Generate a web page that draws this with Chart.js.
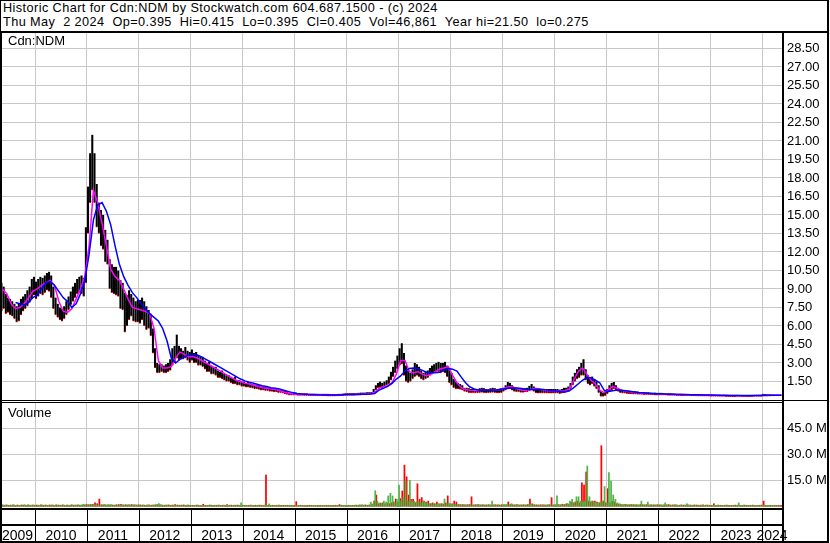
<!DOCTYPE html>
<html>
<head>
<title>Historic Chart for Cdn:NDM</title>
<script src="https://cdn.jsdelivr.net/npm/chart.js"></script>
<style>
  body { margin: 0; background: #fff; font-family: "Liberation Sans", Arial, sans-serif; color: #000; }
  #page { position: relative; width: 830px; height: 543px; overflow: hidden; }
  canvas { position: absolute; left: 0; }
  .line { position: absolute; background: #000; z-index: 5; }
  #head { position: absolute; left: 3px; top: 1px; font-size: 12.7px; letter-spacing: 0.42px; line-height: 14px; white-space: pre; }
  .tag { position: absolute; left: 8px; font-size: 13px; z-index: 4; }
</style>
</head>
<body>
<div id="page">
  <div id="head">Historic Chart for Cdn:NDM by Stockwatch.com 604.687.1500 - (c) 2024
Thu May  2 2024  Op=0.395  Hi=0.415  Lo=0.395  Cl=0.405  Vol=46,861  Year hi=21.50  lo=0.275</div>
  <canvas id="priceChart" width="828" height="367" style="top:33px"></canvas>
  <canvas id="volChart" width="828" height="141" style="top:402px"></canvas>
  <div class="tag" style="top:33px">Cdn:NDM</div>
  <div class="tag" style="top:405px">Volume</div>

  <div class="line" style="left:0;top:0;width:829px;height:1px"></div>
  <div class="line" style="left:0;top:0;width:1px;height:543px"></div>
  <div class="line" style="left:0;top:31px;width:2px;height:512px"></div>
  <div class="line" style="left:827px;top:0;width:2px;height:543px"></div>
  <div class="line" style="left:0;top:31px;width:829px;height:2px"></div>
  <div class="line" style="left:782px;top:31px;width:2px;height:512px"></div>
  <div class="line" style="left:0;top:400px;width:829px;height:1px"></div>
  <div class="line" style="left:0;top:402px;width:784px;height:1px"></div>
  <div class="line" style="left:0;top:508px;width:784px;height:2px"></div>
  <div class="line" style="left:0;top:524px;width:784px;height:2px"></div>
  <div class="line" style="left:0;top:541px;width:829px;height:2px"></div>
</div>

<script>
// visible time window, in fractional years
const X_MIN = 2009.326;
const X_MAX = 2024.385;

const years = [2009, 2010, 2011, 2012, 2013, 2014, 2015, 2016, 2017, 2018, 2019, 2020, 2021, 2022, 2023, 2024];
const priceTicks = [1.5, 3, 4.5, 6, 7.5, 9, 10.5, 12, 13.5, 15, 16.5, 18, 19.5, 21, 22.5, 24, 25.5, 27, 28.5];
const volTicks = [15, 30, 45];

// half-month high / low (May 2009 .. May 2024)
const hi = [
  9.5,9.2,8.6,8.3,8.2,8.0,7.8,7.6,7.8,8.2,8.4,8.6,8.9,9.2,9.8,10.0,
  9.6,9.8,10.0,9.9,10.1,10.3,10.4,10.1,9.2,8.3,7.8,7.5,7.4,7.6,8.0,8.4,8.8,9.2,9.5,9.8,10.0,10.1,9.9,14.0,
  17.3,20.0,21.5,20.0,17.5,16.0,15.4,15.0,13.8,13.0,11.4,11.0,10.8,10.8,10.5,9.7,9.5,8.7,8.5,8.9,8.6,8.3,8.0,8.1,
  8.1,8.3,8.0,7.6,7.3,7.0,5.8,4.2,3.0,2.9,2.9,2.8,2.9,3.0,3.3,4.2,4.4,5.3,4.4,4.2,4.0,4.3,4.0,3.9,
  4.1,3.8,3.9,3.6,3.5,3.5,3.2,3.0,3.1,2.8,2.7,2.7,2.4,2.3,2.4,2.1,2.0,2.0,1.8,1.8,1.9,1.6,1.6,1.5,
  1.5,1.4,1.45,1.35,1.3,1.25,1.2,1.2,1.1,1.1,1.05,1.0,1.0,0.95,0.95,0.9,0.85,0.85,0.8,0.75,0.7,0.6,0.6,0.6,
  0.6,0.55,0.55,0.55,0.55,0.55,0.5,0.5,0.5,0.5,0.5,0.5,0.5,0.5,0.5,0.5,0.48,0.48,0.48,0.48,0.5,0.5,0.52,0.55,
  0.55,0.55,0.55,0.55,0.55,0.58,0.6,0.6,0.6,0.62,0.62,0.65,0.9,1.2,1.4,1.5,1.4,1.5,1.6,1.9,2.3,2.7,3.2,3.6,
  4.2,4.6,3.8,2.8,2.4,2.2,2.5,3.0,2.9,2.7,2.4,2.2,2.3,2.4,2.6,2.8,2.9,3.0,3.1,3.0,3.0,3.1,2.8,2.5,
  2.2,1.7,1.5,1.4,1.3,1.2,1.0,1.0,0.95,0.9,0.95,0.9,0.9,0.95,1.0,0.95,0.9,0.9,0.95,1.0,0.95,0.9,0.9,0.95,
  1.0,1.2,1.45,1.4,1.2,1.0,0.95,0.95,0.9,0.95,0.95,1.0,1.15,1.3,1.1,0.9,0.9,0.9,0.88,0.88,0.9,0.9,0.9,0.9,
  0.9,0.9,0.85,0.9,1.0,1.0,1.1,1.4,1.9,2.2,2.5,2.7,3.0,3.3,2.5,2.0,1.8,1.9,1.7,1.5,1.2,0.7,0.6,0.7,
  0.9,1.2,1.4,1.45,1.2,1.0,0.9,0.8,0.8,0.75,0.75,0.7,0.7,0.7,0.68,0.65,0.65,0.65,0.62,0.62,0.6,0.6,0.6,0.58,
  0.58,0.58,0.56,0.55,0.55,0.54,0.52,0.52,0.5,0.5,0.5,0.48,0.48,0.48,0.46,0.46,0.45,0.45,0.45,0.44,0.44,0.44,0.43,0.43,
  0.43,0.43,0.42,0.42,0.42,0.41,0.41,0.4,0.4,0.4,0.4,0.4,0.42,0.42,0.4,0.4,0.4,0.39,0.39,0.4,0.4,0.41,0.42,0.42,
  0.5,0.48,0.45,0.45,0.44,0.43,0.43,0.42,0.415
];
const lo = [
  7.2,7.4,7.0,7.1,6.9,6.8,6.6,6.3,6.4,6.9,7.2,7.4,7.6,7.9,8.2,8.5,
  8.2,8.4,8.6,8.5,8.7,8.9,8.8,8.3,7.4,6.9,6.7,6.5,6.4,6.6,6.9,7.3,7.7,8.0,8.3,8.6,8.7,8.6,8.4,9.5,
  13.5,16.0,17.0,16.0,14.0,13.5,12.5,12.2,11.2,11.0,9.0,8.7,8.6,8.5,8.4,7.4,7.3,5.5,6.0,6.5,6.8,6.4,6.3,6.3,
  6.2,6.5,6.0,5.7,5.8,5.2,3.8,2.6,2.2,2.2,2.3,2.2,2.2,2.3,2.4,2.8,3.0,3.4,3.2,3.3,3.3,3.4,3.2,3.0,
  3.2,3.0,3.0,2.8,2.8,2.7,2.5,2.3,2.3,2.1,2.1,2.0,1.8,1.8,1.7,1.6,1.5,1.5,1.4,1.3,1.3,1.2,1.2,1.1,
  1.1,1.05,1.05,1.0,0.95,0.9,0.9,0.85,0.8,0.8,0.75,0.75,0.7,0.7,0.65,0.65,0.6,0.6,0.55,0.5,0.45,0.4,0.4,0.4,
  0.4,0.38,0.38,0.38,0.36,0.36,0.35,0.35,0.35,0.34,0.34,0.33,0.33,0.33,0.33,0.32,0.32,0.32,0.32,0.33,0.34,0.35,0.36,0.38,
  0.38,0.38,0.38,0.38,0.4,0.4,0.4,0.42,0.42,0.42,0.44,0.45,0.55,0.8,1.0,1.0,1.0,1.1,1.2,1.3,1.6,1.9,2.2,2.5,
  2.8,2.9,2.0,1.5,1.4,1.5,1.7,1.9,2.0,1.9,1.7,1.6,1.7,1.8,2.0,2.1,2.2,2.3,2.3,2.2,2.3,2.2,1.9,1.4,
  1.2,1.0,0.9,0.9,0.85,0.8,0.7,0.65,0.6,0.6,0.6,0.58,0.58,0.6,0.62,0.6,0.58,0.58,0.6,0.62,0.6,0.58,0.58,0.6,
  0.7,0.8,0.9,0.9,0.8,0.7,0.65,0.65,0.62,0.62,0.65,0.65,0.75,0.8,0.7,0.58,0.56,0.55,0.55,0.55,0.55,0.55,0.55,0.55,
  0.55,0.55,0.5,0.55,0.6,0.65,0.7,0.9,1.2,1.5,1.7,1.8,2.0,2.0,1.6,1.3,1.2,1.3,1.1,0.9,0.6,0.3,0.3,0.35,
  0.5,0.7,0.8,0.9,0.8,0.7,0.6,0.55,0.55,0.52,0.5,0.5,0.48,0.48,0.46,0.45,0.45,0.44,0.43,0.42,0.42,0.41,0.4,0.4,
  0.4,0.4,0.39,0.39,0.38,0.38,0.37,0.37,0.36,0.36,0.36,0.35,0.35,0.34,0.34,0.33,0.33,0.33,0.32,0.32,0.32,0.31,0.31,0.31,
  0.3,0.3,0.3,0.3,0.29,0.29,0.29,0.28,0.28,0.28,0.28,0.28,0.29,0.29,0.28,0.28,0.28,0.28,0.28,0.28,0.29,0.29,0.3,0.3,
  0.33,0.33,0.32,0.32,0.33,0.34,0.35,0.36,0.395
];

// half-month volume, millions of shares (up days / down days)
const volUp = [
  0.6,0.8,0.5,0.7,0.6,0.5,0.8,0.6,0.7,0.5,0.6,0.9,0.6,0.7,0.5,0.8,
  0.6,0.7,0.5,0.8,0.6,0.7,0.5,0.6,0.8,0.6,0.5,0.7,0.6,0.8,0.5,0.7,0.6,0.9,0.7,0.6,0.8,0.7,1.2,0.8,
  0.9,0.8,1.0,0.8,0.9,0.8,0.7,0.9,1.1,0.7,0.8,1.0,0.7,0.8,0.6,0.7,0.9,0.6,0.8,1.0,0.7,0.6,0.8,0.7,
  0.7,0.6,0.8,0.6,0.7,0.6,0.8,0.7,1.0,1.6,0.8,0.6,0.7,0.6,0.5,0.7,0.6,0.5,0.7,0.6,0.5,0.6,0.7,0.5,
  0.5,0.6,0.5,0.7,0.6,0.5,0.6,0.5,0.6,0.7,0.5,0.6,0.5,0.6,0.5,0.7,0.6,0.5,0.6,0.5,0.7,0.6,0.5,2.0,
  0.5,0.6,0.5,0.6,0.5,0.6,0.5,0.6,0.5,0.6,0.7,0.5,1.4,0.6,0.5,0.6,0.5,0.6,0.5,0.4,0.5,0.6,0.5,0.4,
  0.4,0.5,0.4,0.5,0.4,0.5,0.4,0.5,0.4,0.5,0.4,0.5,0.4,0.5,0.4,0.5,0.4,0.5,0.4,0.5,0.4,0.5,0.6,0.5,
  0.5,0.6,0.5,0.6,0.8,0.6,0.9,1.0,0.7,0.6,0.8,2.5,1.5,9.0,3.0,2.0,1.5,3.0,2.5,6.0,7.5,6.0,2.0,4.0,
  12.3,3.0,5.0,14.6,3.0,15.0,2.5,3.0,2.5,3.0,2.0,3.0,2.0,2.0,1.5,1.5,1.5,1.2,1.5,1.2,1.5,4.2,1.5,2.0,
  1.2,1.0,1.2,0.8,1.0,0.8,0.9,0.7,0.8,0.9,0.7,0.8,0.7,0.8,0.7,0.9,0.8,0.7,0.8,3.0,0.8,0.7,0.9,0.7,
  0.8,1.0,1.2,0.9,1.5,0.8,0.7,0.9,0.8,0.7,0.8,0.9,1.0,1.2,0.8,0.7,0.8,0.7,0.6,0.8,0.7,0.9,0.8,0.7,
  0.8,6.0,0.9,1.0,0.8,1.2,1.5,3.0,4.0,2.0,5.5,5.5,3.0,2.5,3.0,23.2,5.5,3.0,2.5,2.0,2.0,2.5,3.0,11.4,
  2.0,19.4,14.6,6.5,4.0,2.0,1.5,1.2,1.0,1.2,0.9,1.0,0.8,0.9,1.0,0.8,3.0,0.9,0.8,2.5,0.8,0.7,0.9,0.8,
  0.7,0.8,0.7,2.0,0.7,0.8,0.6,0.7,0.8,0.6,0.7,0.6,0.7,1.5,0.6,0.7,0.6,0.5,0.7,0.6,0.5,0.6,0.7,0.5,
  0.5,0.6,0.5,0.6,0.5,0.6,0.5,0.6,0.5,0.6,0.5,0.6,0.5,2.0,0.6,0.5,0.6,0.5,0.6,0.5,0.6,0.5,0.6,0.5,
  0.6,0.5,0.6,0.5,0.6,0.5,0.6,0.5,0.4
];
const volDn = [
  0.7,0.6,0.8,0.5,0.7,0.8,0.6,0.7,0.5,0.8,0.7,0.6,0.8,0.6,0.7,0.6,
  0.7,0.6,0.8,0.6,0.7,0.5,0.8,0.7,0.6,0.9,0.7,0.6,0.8,0.5,0.7,0.6,0.8,0.6,0.7,0.8,0.6,0.7,0.8,1.0,
  0.9,1.0,1.1,2.0,1.5,4.2,0.9,0.8,0.7,0.9,0.8,0.7,0.6,0.9,1.0,1.1,0.8,0.9,0.7,0.8,1.0,0.9,0.7,0.8,
  0.8,0.7,0.6,0.7,0.8,0.6,0.7,0.9,0.9,0.8,0.7,0.6,0.7,0.8,0.6,0.7,1.0,0.7,0.6,0.7,0.8,0.6,0.7,0.6,
  0.6,0.5,0.7,0.6,0.5,1.2,0.6,0.5,0.7,0.6,0.5,0.6,0.7,0.5,0.6,0.5,1.0,0.6,0.7,0.5,0.6,0.7,0.5,0.6,
  0.6,0.5,0.6,0.7,0.5,0.6,0.5,0.7,0.6,0.5,18.0,0.6,0.5,0.6,0.5,0.6,0.7,0.5,0.6,0.5,0.6,0.5,0.6,0.5,
  2.7,0.5,0.6,0.5,0.4,0.5,0.6,0.5,0.4,0.5,0.6,0.5,0.4,0.5,0.6,0.5,0.4,0.5,0.6,0.5,1.0,0.6,0.5,0.6,
  0.6,0.5,0.6,0.5,0.6,0.7,0.6,0.5,0.8,0.6,0.7,1.2,3.0,6.5,1.5,1.8,2.0,1.5,1.8,1.5,2.0,2.5,4.2,2.5,
  4.5,8.8,23.8,17.0,6.5,4.0,4.0,2.0,13.0,4.0,5.0,3.0,2.5,3.0,1.5,2.0,1.5,2.5,1.5,1.5,1.2,2.0,6.0,1.5,
  1.5,3.0,2.5,1.0,0.9,1.0,0.8,0.9,1.0,5.5,0.8,0.9,1.0,0.8,0.9,0.7,0.8,0.9,0.7,0.8,0.9,0.8,0.7,0.9,
  0.9,0.8,2.5,1.0,0.9,0.8,1.0,0.7,0.8,0.9,0.7,1.0,4.2,1.5,0.9,0.8,0.7,0.9,0.8,0.7,0.8,0.9,5.0,0.8,
  0.9,1.0,0.8,1.2,1.0,1.5,1.2,2.5,2.0,2.5,3.0,2.0,13.6,12.3,19.8,3.0,2.5,3.0,3.0,2.5,2.0,35.0,3.0,2.0,
  10.2,2.0,3.0,2.5,1.5,1.2,1.0,0.9,1.1,0.8,0.9,1.0,0.9,0.8,0.7,1.0,0.9,0.8,1.0,0.7,0.9,0.8,0.7,0.9,
  0.8,0.7,0.9,0.8,1.0,0.7,0.8,0.9,0.7,0.6,0.8,0.7,0.6,0.8,0.7,0.6,0.8,0.7,0.6,0.7,0.8,0.6,0.7,0.6,
  0.6,1.5,0.6,0.7,0.6,0.5,0.6,0.7,0.6,0.5,0.6,0.7,0.6,0.5,0.6,0.7,0.6,0.5,0.6,0.7,0.6,0.5,0.6,0.7,
  3.0,0.6,0.5,0.6,0.5,0.6,0.5,0.6,0.5
];

// monthly moving averages (magenta = short, blue = long)
const maShort = [
  9.0,8.6,7.8,7.4,7.5,7.8,8.3,8.8,
  9.0,9.3,9.5,9.7,9.3,8.0,7.2,7.1,7.4,8.2,9.0,10.0,
  12.5,17.0,16.0,14.3,12.5,10.6,10.0,9.7,9.0,8.2,7.5,7.4,
  7.3,7.2,7.0,5.8,3.2,2.6,2.6,2.7,3.4,3.9,3.7,3.5,
  3.5,3.4,3.2,3.0,2.8,2.6,2.4,2.2,2.0,1.8,1.6,1.5,
  1.35,1.3,1.2,1.1,1.0,0.95,0.9,0.85,0.75,0.65,0.55,0.5,
  0.45,0.45,0.45,0.44,0.42,0.42,0.41,0.4,0.4,0.4,0.42,0.45,
  0.45,0.45,0.47,0.48,0.5,0.52,0.6,0.95,1.1,1.15,1.4,2.1,
  3.2,3.2,2.3,2.2,2.3,2.1,1.95,2.1,2.3,2.5,2.6,2.7,
  2.0,1.4,1.0,0.85,0.8,0.78,0.78,0.8,0.8,0.8,0.82,0.85,
  0.95,1.1,1.05,0.9,0.8,0.8,0.85,0.95,0.9,0.78,0.75,0.72,
  0.72,0.72,0.75,0.9,1.6,2.3,2.6,2.1,1.6,1.3,0.8,0.6,
  0.85,1.1,0.95,0.8,0.7,0.65,0.6,0.58,0.55,0.52,0.5,0.5,
  0.48,0.47,0.46,0.45,0.45,0.44,0.43,0.42,0.42,0.41,0.4,0.4,
  0.38,0.38,0.37,0.37,0.36,0.36,0.35,0.35,0.35,0.35,0.36,0.36,
  0.38,0.39,0.39,0.38,0.4
];
const maLong = [
  null,null,null,7.9,7.8,7.7,7.9,8.3,
  8.5,9.0,9.5,9.6,9.3,8.8,8.3,8.0,7.5,7.8,8.6,9.7,
  11.8,14.6,15.8,16.0,15.3,14.2,12.5,11.0,10.0,9.3,8.7,8.3,
  7.8,7.4,7.0,6.7,6.4,5.8,4.8,3.4,3.0,3.3,3.5,3.65,
  3.7,3.65,3.5,3.3,3.1,2.9,2.7,2.5,2.3,2.1,1.9,1.7,
  1.55,1.45,1.35,1.25,1.15,1.1,1.0,0.95,0.9,0.8,0.7,0.6,
  0.52,0.48,0.46,0.45,0.44,0.42,0.41,0.4,0.4,0.4,0.41,0.43,
  0.44,0.45,0.45,0.46,0.47,0.48,0.52,0.8,0.95,1.1,1.35,1.7,
  1.95,2.35,2.55,2.6,2.55,2.4,2.25,2.2,2.2,2.25,2.4,2.55,
  2.5,2.35,1.85,1.4,1.05,0.9,0.82,0.8,0.8,0.8,0.82,0.88,
  0.92,0.95,0.97,0.97,0.93,0.88,0.85,0.85,0.87,0.85,0.8,0.75,
  0.72,0.68,0.65,0.75,1.0,1.3,1.6,1.8,1.8,1.6,1.4,0.8,
  0.7,0.75,0.8,0.8,0.75,0.7,0.65,0.6,0.58,0.55,0.52,0.5,
  0.5,0.48,0.47,0.46,0.45,0.45,0.44,0.43,0.42,0.42,0.41,0.4,
  0.4,0.39,0.38,0.38,0.37,0.37,0.36,0.36,0.36,0.36,0.36,0.37,
  0.37,0.38,0.38,0.38,0.38
];

// x positions: centres of the half-month and month periods inside the window
const binX = [];
const monthX = [];
years.forEach(y => {
  for (let k = 0; k < 24; k++) {
    const t = y + (k + 0.5) / 24;
    if (t > X_MIN && t < X_MAX) binX.push(t);
  }
  for (let m = 0; m < 12; m++) {
    const t = y + (m + 0.5) / 12;
    if (t > X_MIN && t < X_MAX) monthX.push(t);
  }
});

const FONT = '"Liberation Sans", Arial, sans-serif';
const GRID = '#c8c8c8';

function xAxis(h) {
  return {
    type: 'linear', min: X_MIN, max: X_MAX, offset: false,
    afterBuildTicks: s => { s.ticks = years.slice(1).map(v => ({ value: v })); },
    afterFit: s => { s.height = h; s.paddingLeft = 0; s.paddingRight = 0; },
    ticks: { display: false },
    grid: { color: GRID, drawTicks: false, offset: false },
    border: { display: false }
  };
}

function yAxis(min, max, ticks, fmt) {
  return {
    position: 'right', min: min, max: max,
    afterBuildTicks: s => { s.ticks = ticks.map(v => ({ value: v })); },
    // keep the plot area flush with the canvas: no room reserved for label overhang
    afterFit: s => { s.width = 46; s.paddingTop = 0; s.paddingBottom = 0; },
    ticks: { padding: 5, color: '#000', font: { family: FONT, size: 13 }, callback: fmt },
    grid: { color: GRID, drawTicks: false },
    border: { display: false }
  };
}

// year dividers and labels in the two rows under the volume panel
const yearRows = {
  id: 'yearRows',
  afterDraw(chart) {
    const ctx = chart.ctx;
    const a = chart.chartArea;
    const xs = chart.scales.x;
    ctx.save();
    ctx.fillStyle = '#000';
    years.slice(1).forEach(y => {
      const px = Math.round(xs.getPixelForValue(y));
      ctx.fillRect(px, 108, 1, 31);
    });
    ctx.font = '14px ' + FONT;
    ctx.textAlign = 'center';
    ctx.textBaseline = 'alphabetic';
    years.forEach(y => {
      const l = Math.max(xs.getPixelForValue(y), a.left);
      const r = Math.min(xs.getPixelForValue(y + 1), a.right);
      ctx.fillText(String(y), (l + r) / 2, 138);
    });
    ctx.restore();
  }
};

const common = {
  responsive: false,
  animation: false,
  devicePixelRatio: 1,
  layout: { padding: 0 },
  plugins: { legend: { display: false }, tooltip: { enabled: false } }
};

new Chart(document.getElementById('priceChart'), {
  type: 'bar',
  data: {
    datasets: [
      {
        type: 'line', label: 'MA short',
        data: monthX.map((x, i) => ({ x: x, y: maShort[i] })),
        borderColor: '#ff00ff', borderWidth: 1.5, pointRadius: 0, tension: 0, order: 2
      },
      {
        type: 'line', label: 'MA long',
        data: monthX.map((x, i) => ({ x: x, y: maLong[i] })),
        borderColor: '#0000ff', borderWidth: 1.5, pointRadius: 0, tension: 0, order: 1
      },
      {
        label: 'Price',
        data: binX.map((x, i) => ({ x: x, y: [lo[i], hi[i]] })),
        backgroundColor: '#000', borderColor: '#ff0000',
        borderWidth: { top: 0, right: 0, bottom: 1, left: 0 }, borderSkipped: false,
        barPercentage: 1, categoryPercentage: 1, order: 3
      }
    ]
  },
  options: Object.assign({}, common, {
    scales: {
      x: xAxis(0),
      y: yAxis(0, 29.75, priceTicks, v => v.toFixed(2))
    }
  })
});

new Chart(document.getElementById('volChart'), {
  type: 'bar',
  data: {
    datasets: [
      {
        label: 'Up', data: binX.map((x, i) => ({ x: x, y: volUp[i] })),
        backgroundColor: '#4db848', barPercentage: 1, categoryPercentage: 1
      },
      {
        label: 'Down', data: binX.map((x, i) => ({ x: x, y: volDn[i] })),
        backgroundColor: '#ff0000', barPercentage: 1, categoryPercentage: 1
      }
    ]
  },
  options: Object.assign({}, common, {
    scales: {
      x: xAxis(36),
      y: yAxis(-0.4, 60.2, volTicks, v => v.toFixed(1) + ' M')
    }
  }),
  plugins: [yearRows]
});
</script>
</body>
</html>
